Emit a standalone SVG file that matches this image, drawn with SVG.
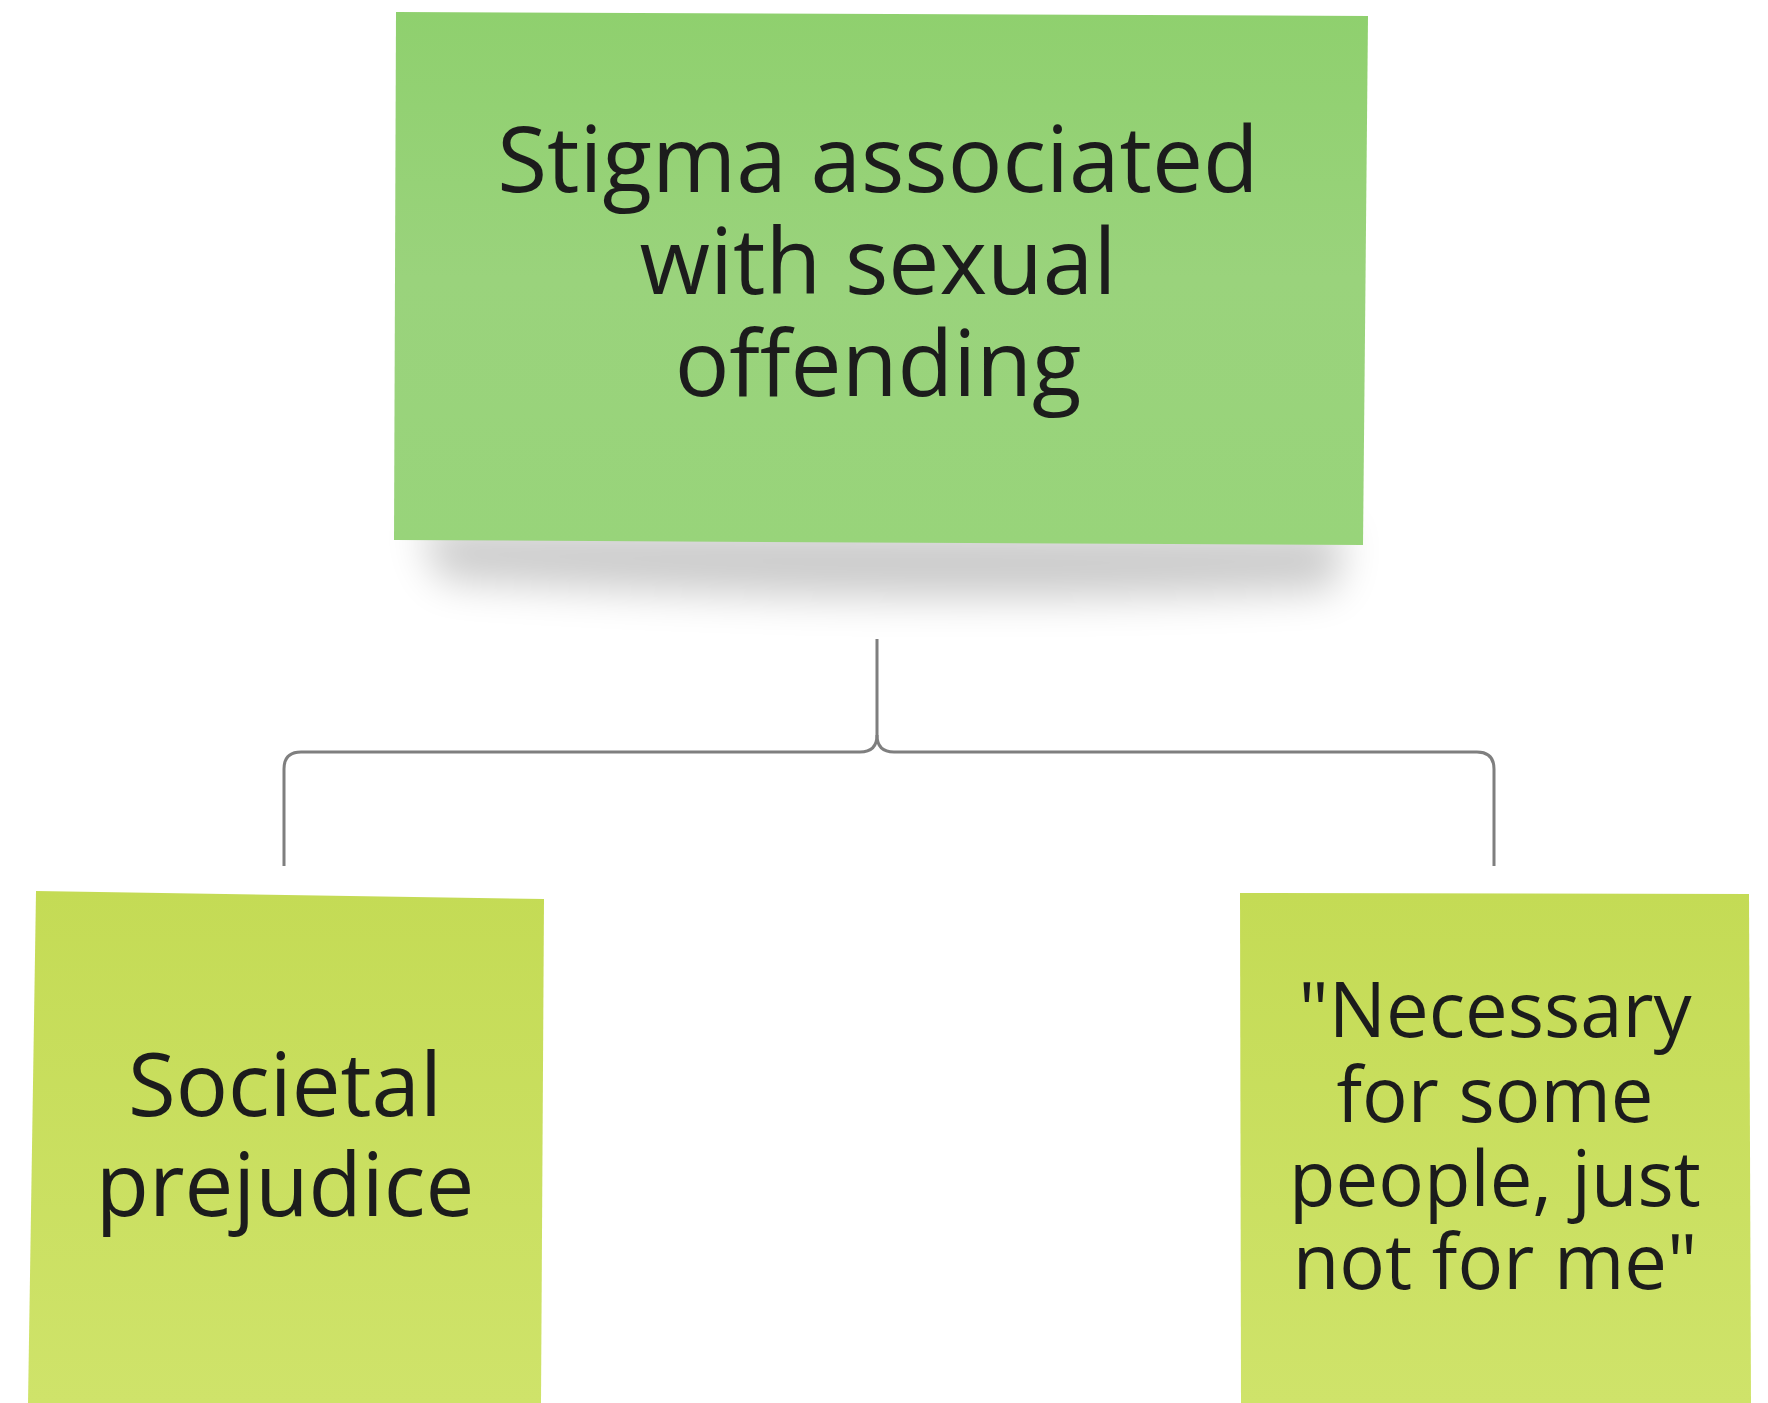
<svg xmlns="http://www.w3.org/2000/svg" width="1768" height="1403" viewBox="0 0 1768 1403">
  <defs>
    <linearGradient id="gTop" x1="0" y1="0" x2="0" y2="1">
      <stop offset="0" stop-color="#8fd06e"/>
      <stop offset="0.5" stop-color="#9ad37c"/>
      <stop offset="1" stop-color="#98d47a"/>
    </linearGradient>
    <linearGradient id="gLeaf" x1="0" y1="0" x2="0" y2="1">
      <stop offset="0" stop-color="#c4db55"/>
      <stop offset="1" stop-color="#cfe36a"/>
    </linearGradient>
    <filter id="blur" x="-20%" y="-100%" width="140%" height="300%">
      <feGaussianBlur stdDeviation="20"/>
    </filter>
    <style>
      .lbl { font-family: "Open Sans", "Noto Sans", "Liberation Sans", sans-serif; fill: #1c1c1c; text-anchor: middle; }
      .conn { fill: none; stroke: #7f7f7f; stroke-width: 3; }
    </style>
  </defs>
  <rect width="1768" height="1403" fill="#ffffff"/>

  <g id="connectors">
    <path class="conn" d="M 877 639 V 735 Q 877 752 860 752 H 301 Q 284 752 284 769 V 866"/>
    <path class="conn" d="M 877 735 Q 877 752 894 752 H 1477 Q 1494 752 1494 769 V 866"/>
  </g>

  <g id="node-stigma">
    <path d="M 420 525 L 1345 530 L 1335 590 Q 880 610 440 580 Z" fill="#000" opacity="0.2" filter="url(#blur)"/>
    <polygon points="396,12 1368,16 1363,545 394,540" fill="url(#gTop)"/>
    <text class="lbl" font-size="91" x="878" y="192">Stigma associated</text>
    <text class="lbl" font-size="91" x="878" y="294">with sexual</text>
    <text class="lbl" font-size="91" x="878" y="396">offending</text>
  </g>

  <g id="node-societal">
    <polygon points="36,891 544,899 541,1403 28,1403" fill="url(#gLeaf)"/>
    <text class="lbl" font-size="87" x="285" y="1116">Societal</text>
    <text class="lbl" font-size="87" x="285" y="1216">prejudice</text>
  </g>

  <g id="node-necessary">
    <polygon points="1240,893 1749,894 1751,1403 1241,1403" fill="url(#gLeaf)"/>
    <text class="lbl" font-size="76" x="1495" y="1037">"Necessary</text>
    <text class="lbl" font-size="76" x="1495" y="1122">for some</text>
    <text class="lbl" font-size="76" x="1495" y="1206">people, just</text>
    <text class="lbl" font-size="76" x="1495" y="1289">not for me"</text>
  </g>
</svg>
